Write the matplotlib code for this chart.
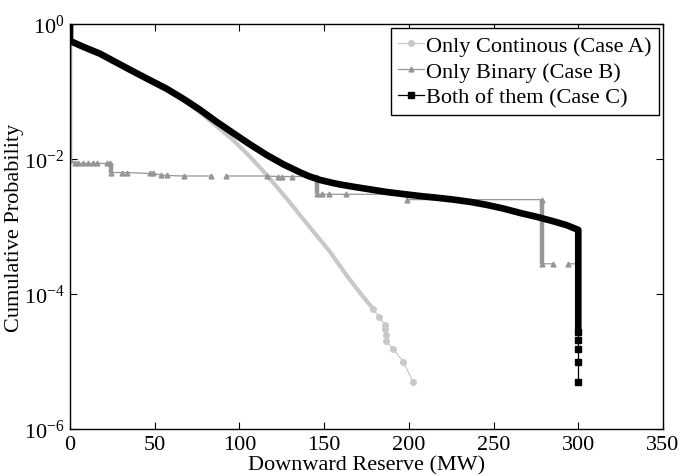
import numpy as np
import matplotlib
matplotlib.use("Agg")
import matplotlib.pyplot as plt

plt.rcParams["font.family"] = "Liberation Serif"
plt.rcParams["mathtext.fontset"] = "custom"
plt.rcParams["mathtext.rm"] = "Liberation Serif"
plt.rcParams["mathtext.it"] = "Liberation Serif:italic"
plt.rcParams["font.size"] = 16

# Case C: both continuous and binary (black)
c_x = [0, 0, 8, 17.7, 27, 37, 47, 57, 67, 76.7, 86, 96, 106, 116, 126, 136, 141,
       147.5, 155, 160, 167, 177, 187, 197, 207, 217, 226, 236, 246, 256, 266,
       276, 285, 293, 300, 300]
c_y = [1.0, 0.562, 0.457, 0.363, 0.272, 0.200, 0.148, 0.110, 0.0776, 0.0537,
       0.0363, 0.0245, 0.0166, 0.0115, 0.00832, 0.00631, 0.00556, 0.0049,
       0.00442, 0.00417, 0.00389, 0.00355, 0.00324, 0.00302, 0.00282, 0.00266,
       0.00251, 0.00232, 0.00209, 0.00184, 0.00158, 0.00138, 0.0012, 0.00105,
       0.00089, 2.7e-5]
c_tail_x = [300, 300, 300, 300, 300]
c_tail_y = [2.7e-5, 2.1e-5, 1.55e-5, 1.0e-5, 5e-6]

# Case A: only continuous (light grey)
a_x = [0, 0, 8, 17.7, 27, 37, 47, 57, 67, 76.7, 86, 96, 106, 116, 122, 128, 133,
       137.5, 143.5, 148, 153.5, 158, 163.5, 168, 173, 179]
a_y = [1.0, 0.562, 0.457, 0.363, 0.272, 0.200, 0.148, 0.110, 0.0767, 0.049,
       0.0316, 0.0193, 0.011, 0.00582, 0.00389, 0.00257, 0.0018, 0.0013, 8.5e-4,
       6.2e-4, 4.2e-4, 2.9e-4, 1.86e-4, 1.32e-4, 9.1e-5, 6.0e-5]
a_tail_x = [179, 182.5, 186, 186, 186.5, 186.5, 190.7, 196.6, 202.5]
a_tail_y = [6.0e-5, 4.5e-5, 3.5e-5, 3.0e-5, 2.5e-5, 2.0e-5, 1.55e-5, 1.0e-5, 5e-6]

# Case B: only binary (medium grey), stepped
b_x = [0, 0, 3, 4.7, 7.7, 10.6, 13.6, 16, 22, 23.6, 24, 30.7, 33.6, 47, 49, 54, 57,
       67, 83, np.nan, 92, 116, 123, 125, 131, 146, 146, 149, 153, 163, 199, 199,
       278.6, 278.6, 285, np.nan, 294, 300]
b_y = [1.0, 0.0098, 0.0088, 0.0086, 0.0086, 0.0086, 0.0086, 0.0086, 0.0086, 0.0086,
       0.0063, 0.0063, 0.0063, 0.0061, 0.0061, 0.0058, 0.0057, 0.0056, 0.0056, np.nan,
       0.0056, 0.0056, 0.0055, 0.0055, 0.0055, 0.0055, 0.0030, 0.0030, 0.0030, 0.0030,
       0.0030, 0.0025, 0.0025, 0.00028, 0.00028, np.nan, 0.00028, 0.00028]
b_drop_x = [0, 24, 146, 278.6]
b_drop_top = [1.0, 0.0086, 0.0055, 0.0025]
b_drop_bot = [0.0098, 0.0063, 0.0030, 0.00028]

x_ticks = [0, 50, 100, 150, 200, 250, 300, 350]
y_ticks = [1e-6, 1e-4, 1e-2, 1]
y_tick_labels = ["$10^{-6}$", "$10^{-4}$", "$10^{-2}$", "$10^{0}$"]

col_a = "#c8c8c8"
col_b = "#969696"

fig = plt.figure(figsize=(6.84, 4.77), dpi=100)
ax = fig.add_axes([70 / 684, 1 - 430 / 477, 593 / 684, 405 / 477])

# Case A
ax.plot(a_x, a_y, color=col_a, lw=3.0, solid_joinstyle="round",
        solid_capstyle="butt")
la, = ax.plot(a_tail_x, a_tail_y, color=col_a, lw=0.9, marker="o",
              markersize=4, markeredgecolor=col_a, label="Only Continous (Case A)")

# Case B
ax.vlines(b_drop_x, b_drop_bot, b_drop_top, color=col_b, lw=3.2)
lb, = ax.plot(b_x, b_y, color=col_b, lw=0.9, marker="^", markersize=3.5,
              markeredgecolor=col_b, label="Only Binary (Case B)")

# Case C
ax.plot(c_x, c_y, color="black", lw=4.8, solid_joinstyle="round",
        solid_capstyle="butt")
lc, = ax.plot(c_tail_x, c_tail_y, color="black", lw=0.9, marker="s",
              markersize=4, label="Both of them (Case C)")

ax.set_yscale("log")
ax.set_xlim(0, 350)
ax.set_ylim(1e-6, 1)
ax.set_xticks(x_ticks)
ax.set_yticks(y_ticks)
ax.set_yticklabels(y_tick_labels)
ax.minorticks_off()
ax.tick_params(direction="in", top=True, right=True, length=5, width=0.8, pad=4)
for s in ax.spines.values():
    s.set_linewidth(1.0)

ax.set_xlabel("Downward Reserve (MW)", labelpad=1)
ax.set_ylabel("Cumulative Probability", labelpad=0)

leg = ax.legend(handles=[la, lb, lc], loc="upper right", fancybox=False,
                framealpha=1, edgecolor="black", borderaxespad=0.2,
                handlelength=1.2, handletextpad=0.1, labelspacing=0.25,
                borderpad=0.3)
leg.get_frame().set_linewidth(1.0)

fig.savefig("out.png", dpi=100)
